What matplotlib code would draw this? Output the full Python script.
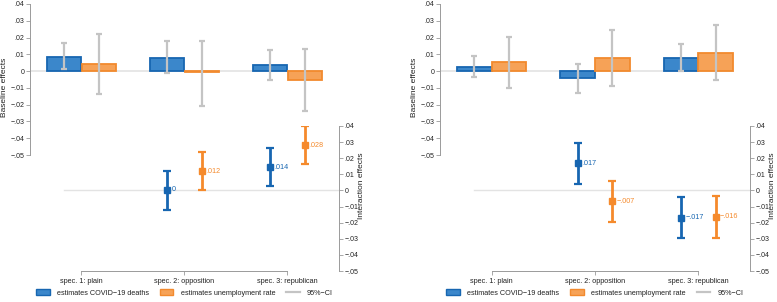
import numpy as np
import matplotlib
matplotlib.use("Agg")
import matplotlib.pyplot as plt
from matplotlib.patches import Patch
from matplotlib.lines import Line2D

plt.rcParams['font.family'] = ['Liberation Sans', 'DejaVu Sans']

categories = ["spec. 1: plain", "spec. 2: opposition", "spec. 3: republican"]

# ---- Panel A ----
a_base_covid = [0.0087, 0.0078, 0.0036]
a_base_covid_lo = [0.0010, -0.0014, -0.0052]
a_base_covid_hi = [0.0166, 0.0178, 0.0126]
a_base_unemp = [0.0044, -0.0007, -0.0052]
a_base_unemp_lo = [-0.0138, -0.0205, -0.0236]
a_base_unemp_hi = [0.0224, 0.0178, 0.0134]
a_int_covid = [np.nan, 0.0003, 0.0143]
a_int_covid_lo = [np.nan, -0.0119, 0.0027]
a_int_covid_hi = [np.nan, 0.0123, 0.0263]
a_int_unemp = [np.nan, 0.0118, 0.0281]
a_int_unemp_lo = [np.nan, 0.0000, 0.0163]
a_int_unemp_hi = [np.nan, 0.0238, 0.0400]

# ---- Panel B ----
b_base_covid = [0.0026, -0.0044, 0.0078]
b_base_covid_lo = [-0.0038, -0.0132, 0.0000]
b_base_covid_hi = [0.0088, 0.0044, 0.0162]
b_base_unemp = [0.0052, 0.0078, 0.0108]
b_base_unemp_lo = [-0.0100, -0.0086, -0.0054]
b_base_unemp_hi = [0.0206, 0.0246, 0.0276]
b_int_covid = [np.nan, 0.0168, -0.0168]
b_int_covid_lo = [np.nan, 0.0042, -0.0298]
b_int_covid_hi = [np.nan, 0.0294, -0.0040]
b_int_unemp = [np.nan, -0.0068, -0.0162]
b_int_unemp_lo = [np.nan, -0.0198, -0.0298]
b_int_unemp_hi = [np.nan, 0.0060, -0.0033]

yticks = [0.04, 0.03, 0.02, 0.01, 0.0, -0.01, -0.02, -0.03, -0.04, -0.05]

BLUE_FILL = "#3b87cb"
BLUE_EDGE = "#1766b1"
ORANGE_FILL = "#f6a257"
ORANGE_EDGE = "#f28a2e"
BLUE_PT = "#1766b1"
ORANGE_PT = "#f58a2c"
GRAY = "#c4c4c4"
TXT = "#222222"

def fmt_tick(v):
    if abs(v) < 1e-9:
        return "0"
    s = f"{v:.2f}".replace("0.", ".")
    return s.replace("-", "\u2212")

def fmt_val(v):
    s = f"{v:.3f}"
    if float(s) == 0:
        return "0"
    s = s.replace("0.", ".")
    return s.replace("-", "\u2212")

W, H = 777, 302
fig = plt.figure(figsize=(W / 100, H / 100), dpi=100)

def frac_x(px):
    return px / W

def frac_y(py):
    return 1 - py / H

def panel(x0, x1, bc, bcl, bch, bu, bul, buh, ic, icl, ich, iu, iul, iuh):
    axb = fig.add_axes([frac_x(x0), frac_y(155), frac_x(x1 - x0), (155 - 4) / H])
    axi = fig.add_axes([frac_x(x0), frac_y(271), frac_x(x1 - x0), (271 - 126) / H])
    for ax in (axb, axi):
        ax.set_xlim(0.5, 3.5)
        ax.set_ylim(-0.05, 0.04)
        ax.patch.set_alpha(0)
        for s in ax.spines.values():
            s.set_visible(False)
    x = np.arange(1, len(categories) + 1)
    off = 0.168
    bw = 0.333
    axb.plot([0.5, 3 + off + bw / 2], [0, 0], color="#e3e3e3", lw=1.2, zorder=0)
    axb.bar(x - off, bc, width=bw, color=BLUE_FILL, edgecolor=BLUE_EDGE, linewidth=1.3, zorder=2)
    axb.bar(x + off, bu, width=bw, color=ORANGE_FILL, edgecolor=ORANGE_EDGE, linewidth=1.3, zorder=2)
    bc_ = np.array(bc); bu_ = np.array(bu)
    axb.errorbar(x - off, bc_, yerr=[bc_ - np.array(bcl), np.array(bch) - bc_], fmt="none",
                 ecolor=GRAY, elinewidth=1.6, capsize=2.5, capthick=1.6, zorder=3)
    axb.errorbar(x + off, bu_, yerr=[bu_ - np.array(bul), np.array(buh) - bu_], fmt="none",
                 ecolor=GRAY, elinewidth=1.6, capsize=2.5, capthick=1.6, zorder=3)
    axb.spines['left'].set_visible(True)
    axb.spines['left'].set_bounds(-0.05, 0.04)
    axb.spines['left'].set_color("#9a9a9a")
    axb.spines['left'].set_linewidth(0.7)
    axb.set_xticks([])
    axb.set_yticks(yticks)
    axb.set_yticklabels([fmt_tick(v) for v in yticks])
    axb.tick_params(axis='y', direction='out', length=3, width=0.6, color="#9a9a9a",
                    labelsize=5.0, labelcolor=TXT, pad=1.2)
    axb.set_ylabel("Baseline effects", fontsize=6, color=TXT)
    axb.yaxis.set_label_coords(-0.070, 0.45)

    axi.plot([1 - off, 3.5], [0, 0], color="#e3e3e3", lw=1.0, zorder=0)
    ic_ = np.array(ic); iu_ = np.array(iu)
    axi.errorbar(x - off, ic_, yerr=[ic_ - np.array(icl), np.array(ich) - ic_], fmt="s",
                 color=BLUE_PT, ms=4.5, elinewidth=2.0, capsize=2.8, capthick=1.6, zorder=3)
    axi.errorbar(x + off, iu_, yerr=[iu_ - np.array(iul), np.array(iuh) - iu_], fmt="s",
                 color=ORANGE_PT, ms=4.5, elinewidth=2.0, capsize=2.8, capthick=1.6, zorder=3)
    for xi, v in zip(x - off, ic):
        if not np.isnan(v):
            axi.annotate(fmt_val(v), (xi, v), xytext=(3.2, 0), textcoords="offset points",
                         va="center", ha="left", fontsize=5.2, color=BLUE_PT)
    for xi, v in zip(x + off, iu):
        if not np.isnan(v):
            axi.annotate(fmt_val(v), (xi, v), xytext=(3.2, 0), textcoords="offset points",
                         va="center", ha="left", fontsize=5.2, color=ORANGE_PT)
    axi.spines['right'].set_visible(True)
    axi.spines['right'].set_bounds(-0.05, 0.04)
    axi.spines['right'].set_color("#9a9a9a")
    axi.spines['right'].set_linewidth(0.7)
    axi.spines['bottom'].set_visible(True)
    axi.spines['bottom'].set_bounds(1, 3)
    axi.spines['bottom'].set_color("#9a9a9a")
    axi.spines['bottom'].set_linewidth(0.7)
    axi.yaxis.tick_right()
    axi.yaxis.set_label_position('right')
    axi.set_yticks(yticks)
    axi.set_yticklabels([fmt_tick(v) for v in yticks])
    axi.tick_params(axis='y', direction='out', length=3, width=0.6, color="#9a9a9a",
                    labelsize=5.0, labelcolor=TXT, pad=1.2)
    axi.set_xticks(x)
    axi.set_xticklabels(categories)
    axi.tick_params(axis='x', direction='out', length=3, width=0.6, color="#9a9a9a",
                    labelsize=5.2, labelcolor=TXT, pad=2)
    axi.set_ylabel("Interaction effects", fontsize=6, color=TXT, rotation=90)
    axi.yaxis.set_label_coords(1.062, 0.59)

    handles = [Patch(facecolor=BLUE_FILL, edgecolor=BLUE_EDGE, linewidth=1.0),
               Patch(facecolor=ORANGE_FILL, edgecolor=ORANGE_EDGE, linewidth=1.0),
               Line2D([0], [0], color=GRAY, lw=1.6)]
    labels = ["estimates COVID\u221219 deaths", "estimates unemployment rate", "95%\u2212CI"]
    cx = (x0 + x1) / 2
    fig.legend(handles, labels, loc="center", bbox_to_anchor=(frac_x(cx), frac_y(293)),
               ncol=3, frameon=False, fontsize=5.2, handlelength=1.9, handleheight=0.7,
               columnspacing=1.5, handletextpad=1.0, labelcolor=TXT)

panel(30, 339, a_base_covid, a_base_covid_lo, a_base_covid_hi,
      a_base_unemp, a_base_unemp_lo, a_base_unemp_hi,
      a_int_covid, a_int_covid_lo, a_int_covid_hi,
      a_int_unemp, a_int_unemp_lo, a_int_unemp_hi)
panel(440, 750, b_base_covid, b_base_covid_lo, b_base_covid_hi,
      b_base_unemp, b_base_unemp_lo, b_base_unemp_hi,
      b_int_covid, b_int_covid_lo, b_int_covid_hi,
      b_int_unemp, b_int_unemp_lo, b_int_unemp_hi)

fig.savefig("out.png", dpi=100)
